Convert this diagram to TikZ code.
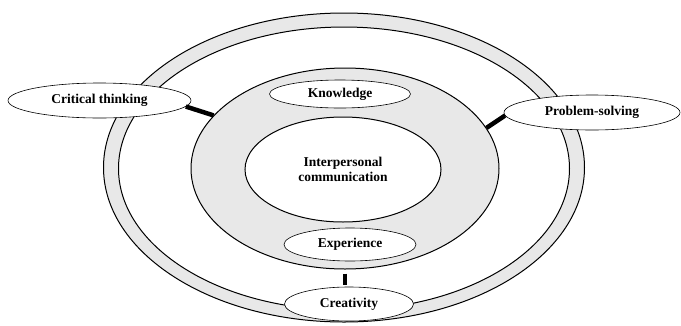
\documentclass[tikz,border=0pt]{standalone}
\usepackage{fontspec}
\setmainfont{Liberation Serif}
\usepackage{tikz}
\usetikzlibrary{shapes.geometric}

\definecolor{ringgray}{RGB}{232,232,232}

\begin{document}
\begin{tikzpicture}[x=1pt,y=-1pt,
		font=\fontsize{13.5}{15}\selectfont\bfseries]
		\useasboundingbox (0,0) rectangle (681,325);

		% rings
		\begin{scope}[every node/.style={ellipse,draw,line width=1pt,inner sep=0pt}]
			\node[fill=ringgray,minimum width=481,minimum height=309] (outerring) at (344,167.5) {};
			\node[fill=white,minimum width=451,minimum height=283] (innerring) at (344,168.5) {};
			\node[fill=ringgray,minimum width=308,minimum height=201] (skills) at (345,168.5) {};
			\node[fill=white,minimum width=196,minimum height=105,align=center] (comm) at (343,169.5) {Interpersonal\\communication};
		\end{scope}

		\begin{scope}[every node/.style={ellipse,draw,line width=0.6pt,fill=white,inner sep=0pt}]
			\node[minimum width=141,minimum height=28] (know) at (340,94) {Knowledge};
			\node[minimum width=132,minimum height=33] (exper) at (350,244.5) {Experience};
			\node[minimum width=129,minimum height=34] (creat) at (349,304) {Creativity};
			\node[minimum width=183,minimum height=35] (crit) at (99.5,100.5) {Critical thinking};
			\node[minimum width=176,minimum height=35] (prob) at (592,112.5) {Problem-solving};
		\end{scope}

		\begin{scope}[every edge/.style={draw=black,line width=4.5pt}]
			\path [-] (crit.-4) edge (skills.158);
			\path [-] (skills.16) edge (prob.182);
			\path [-] (skills.south) edge [shorten <=4pt,shorten >=2pt] (skills.south |- creat.north);
		\end{scope}
\end{tikzpicture}
\end{document}
